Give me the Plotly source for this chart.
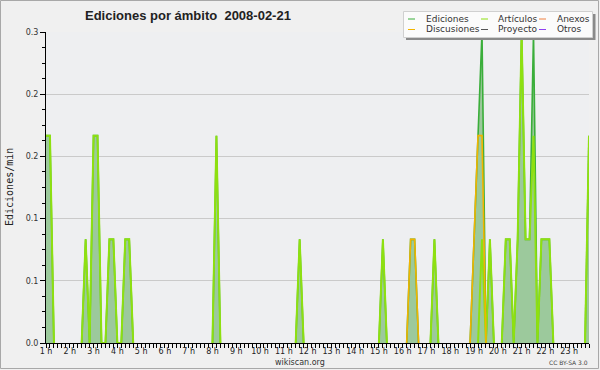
import numpy as np
import plotly.graph_objects as go

# ---- data: edits per minute, 10-minute bins starting at 1:00 (one row per hour) ----
ediciones = [
    0.2, 0.2, 0, 0, 0, 0,      # 1 h
    0, 0, 0, 0, 0.1, 0,        # 2 h
    0.2, 0.2, 0, 0, 0.1, 0.1,  # 3 h
    0, 0, 0.1, 0.1, 0, 0,      # 4 h
    0, 0, 0, 0, 0, 0,          # 5 h
    0, 0, 0, 0, 0, 0,          # 6 h
    0, 0, 0, 0, 0, 0,          # 7 h
    0, 0.2, 0, 0, 0, 0,        # 8 h
    0, 0, 0, 0, 0, 0,          # 9 h
    0, 0, 0, 0, 0, 0,          # 10 h
    0, 0, 0, 0, 0.1, 0,        # 11 h
    0, 0, 0, 0, 0, 0,          # 12 h
    0, 0, 0, 0, 0, 0,          # 13 h
    0, 0, 0, 0, 0, 0,          # 14 h
    0, 0.1, 0, 0, 0, 0,        # 15 h
    0, 0, 0.1, 0.1, 0, 0,      # 16 h
    0, 0, 0.1, 0, 0, 0,        # 17 h
    0, 0, 0, 0, 0, 0,          # 18 h
    0.1, 0.2, 0.3, 0, 0.1, 0,  # 19 h
    0, 0, 0.1, 0.1, 0, 0.1,    # 20 h
    0.3, 0.1, 0.1, 0.3, 0, 0.1,  # 21 h
    0.1, 0.1, 0, 0, 0, 0,      # 22 h
    0, 0, 0, 0, 0, 0.2,        # 23 h
]
articulos = [
    0.2, 0.2, 0, 0, 0, 0,
    0, 0, 0, 0, 0.1, 0,
    0.2, 0.2, 0, 0, 0.1, 0.1,
    0, 0, 0.1, 0.1, 0, 0,
    0, 0, 0, 0, 0, 0,
    0, 0, 0, 0, 0, 0,
    0, 0, 0, 0, 0, 0,
    0, 0.2, 0, 0, 0, 0,
    0, 0, 0, 0, 0, 0,
    0, 0, 0, 0, 0, 0,
    0, 0, 0, 0, 0.1, 0,
    0, 0, 0, 0, 0, 0,
    0, 0, 0, 0, 0, 0,
    0, 0, 0, 0, 0, 0,
    0, 0.1, 0, 0, 0, 0,
    0, 0, 0, 0, 0, 0,
    0, 0, 0.1, 0, 0, 0,
    0, 0, 0, 0, 0, 0,
    0, 0, 0.1, 0, 0.1, 0,
    0, 0, 0.1, 0.1, 0, 0.1,
    0.3, 0.1, 0.1, 0.2, 0, 0.1,
    0.1, 0.1, 0, 0, 0, 0,
    0, 0, 0, 0, 0, 0.2,
]
discusiones = [0] * 90 + [0, 0, 0.1, 0.1, 0, 0] + [0] * 12 + [0.1, 0.2, 0.2, 0, 0, 0] + [0] * 24
anexos = [0] * 138
proyecto = [0] * 138
otros = [0] * 138

hour_ticks = list(range(1, 24))
hour_labels = [f"{h} h" for h in hour_ticks]
y_ticks = [0, 0.06, 0.12, 0.18, 0.24, 0.30]
y_labels = ["0.0", "0.1", "0.1", "0.2", "0.2", "0.3"]

series_names = ["Ediciones", "Discusiones", "Artículos", "Proyecto", "Anexos", "Otros"]
series_colors = ["#3aae3a", "#f2b400", "#8ee010", "#555555", "#f08040", "#9040f0"]

# ---- derived ----
n = len(ediciones)
x = 1 + np.arange(n) / 6.0


def line_mask(vals):
    v = np.array(vals, dtype=float)
    out = v.copy()
    for i in range(len(v)):
        prev = v[i - 1] if i > 0 else 0
        nxt = v[i + 1] if i < len(v) - 1 else 0
        if v[i] == 0 and prev == 0 and nxt == 0:
            out[i] = np.nan
    return out


fig = go.Figure()
fig.add_trace(go.Scatter(x=x, y=ediciones, mode="lines", line=dict(width=0, color="#9cc99c"),
                         fill="tozeroy", fillcolor="#9cc99c", showlegend=False, hoverinfo="skip"))
data_by_name = {"Ediciones": ediciones, "Discusiones": discusiones, "Artículos": articulos,
                "Proyecto": proyecto, "Anexos": anexos, "Otros": otros}
draw_order = ["Proyecto", "Anexos", "Otros", "Ediciones", "Artículos", "Discusiones"]
for name in draw_order:
    col = series_colors[series_names.index(name)]
    w = 2 if name == "Artículos" else 1.6
    fig.add_trace(go.Scatter(x=x, y=line_mask(data_by_name[name]), mode="lines", name=name,
                             line=dict(color=col, width=w), connectgaps=False, showlegend=False))

L, R, T, B = 46, 11, 32, 27
W, H = 600, 370
PW, PH = W - L - R, H - T - B


def px(xp):
    return (xp - L) / PW


def py(yp):
    return (H - B - yp) / PH


shapes = []
annotations = []
# figure border
shapes.append(dict(type="rect", xref="paper", yref="paper", x0=px(0.5), x1=px(598.5),
                   y0=py(368.5), y1=py(0.5), line=dict(color="#a8a8a8", width=1), layer="below"))
# legend box with shadow
shapes.append(dict(type="rect", xref="paper", yref="paper", x0=px(406), x1=px(595.5),
                   y0=py(40), y1=py(14), fillcolor="#8a8a8a", line=dict(width=0)))
shapes.append(dict(type="rect", xref="paper", yref="paper", x0=px(403.5), x1=px(592.5),
                   y0=py(37.5), y1=py(11.5), fillcolor="#fbfbfb", line=dict(color="#d0d0d0", width=1)))
legend_layout = [("Ediciones", 408, 424, 19), ("Discusiones", 408, 424, 29.5),
                 ("Artículos", 481, 496, 19), ("Proyecto", 481, 496, 29.5),
                 ("Anexos", 539, 555, 19), ("Otros", 539, 555, 29.5)]
for name, lx, tx, ly in legend_layout:
    col = series_colors[series_names.index(name)]
    shapes.append(dict(type="line", xref="paper", yref="paper", x0=px(lx), x1=px(lx + 7),
                       y0=py(ly), y1=py(ly), line=dict(color=col, width=1)))
    annotations.append(dict(text=name, xref="paper", yref="paper", x=px(tx), y=py(ly),
                            xanchor="left", yanchor="middle", showarrow=False,
                            font=dict(family="DejaVu Sans", size=9, color="#333333")))

annotations.append(dict(text="<b>Ediciones por ámbito  2008-02-21</b>", xref="paper", yref="paper",
                        x=px(187.5), y=py(15), xanchor="center", yanchor="middle", showarrow=False,
                        font=dict(family="Liberation Sans", size=13, color="#222222")))
annotations.append(dict(text="Ediciones/min", xref="paper", yref="paper", x=px(9.5), y=py(187.5),
                        textangle=-90, xanchor="center", yanchor="middle", showarrow=False,
                        font=dict(family="DejaVu Sans Mono", size=10, color="#222222")))
annotations.append(dict(text="wikiscan.org", xref="paper", yref="paper", x=px(300), y=py(362),
                        xanchor="center", yanchor="middle", showarrow=False,
                        font=dict(family="DejaVu Sans", size=8, color="#333333")))
annotations.append(dict(text="CC BY-SA 3.0", xref="paper", yref="paper", x=px(590), y=py(362.5),
                        xanchor="right", yanchor="middle", showarrow=False,
                        font=dict(family="DejaVu Sans", size=6, color="#444444")))

fig.update_layout(
    width=W, height=H, margin=dict(l=L, r=R, t=T, b=B, pad=0),
    paper_bgcolor="#f0f0f0", plot_bgcolor="#eeeff1",
    shapes=shapes, annotations=annotations, showlegend=False,
    xaxis=dict(range=[1, x[-1]], tickmode="array", tickvals=hour_ticks, ticktext=hour_labels,
               ticks="outside", ticklen=4, tickcolor="black", showgrid=False, zeroline=False,
               showline=True, linecolor="black", linewidth=1, automargin=False,
               ticklabelstandoff=-4,
               tickfont=dict(family="DejaVu Sans", size=8, color="#222222"),
               minor=dict(dtick=1 / 6, tick0=1, ticks="outside", ticklen=4, tickcolor="black", showgrid=False)),
    yaxis=dict(range=[0, 0.3], tickmode="array", tickvals=y_ticks, ticktext=y_labels,
               ticks="outside", ticklen=5, tickcolor="black", showgrid=True, gridcolor="#cacaca",
               gridwidth=1, zeroline=False, showline=True, linecolor="black", linewidth=1,
               automargin=False, tickfont=dict(family="DejaVu Sans", size=8, color="#333333"),
               minor=dict(dtick=0.015, tick0=0, ticks="outside", ticklen=3, tickcolor="black", showgrid=False)),
)

fig.write_html("out.html")
